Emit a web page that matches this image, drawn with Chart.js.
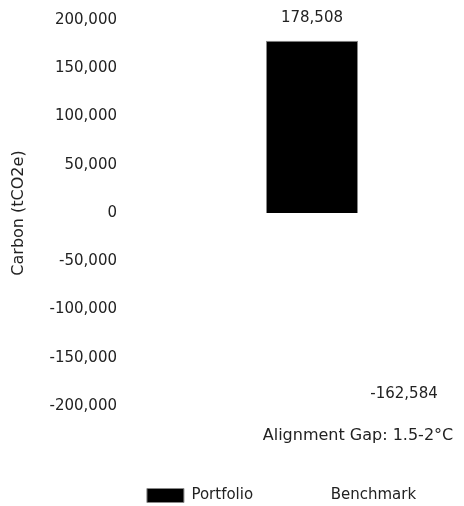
<!DOCTYPE html>
<html lang="en">
<head>
    <meta charset="UTF-8">
    <title>Alignment Gap</title>
    <style>
        * { margin: 0; padding: 0; box-sizing: border-box; }
        body { background: #fff; overflow: hidden; width: 464px; height: 506px; }
        .wrap { position: relative; width: 600px; height: 513px; }
    </style>
    <script src="https://cdn.jsdelivr.net/npm/chart.js"></script>
</head>
<body>
    <div class="wrap">
        <canvas id="gapChart"></canvas>
    </div>
    <script>
        const categories = ['Alignment Gap: 1.5-2°C'];
        const portfolio = [178508];
        const benchmark = [-162584];
        const yTicks = [-200000, -150000, -100000, -50000, 0, 50000, 100000, 150000, 200000];

        const fontFamily = '"DejaVu Sans", sans-serif';
        const textColor = '#222';
        const padLeft = -28;

        // draws the value above (or below, for negatives) each bar
        const valueLabels = {
            id: 'valueLabels',
            afterDatasetsDraw(chart) {
                const ctx = chart.ctx;
                ctx.save();
                ctx.font = '15px ' + fontFamily;
                ctx.fillStyle = textColor;
                ctx.textAlign = 'center';
                ctx.textBaseline = 'middle';
                chart.data.datasets.forEach((ds, i) => {
                    chart.getDatasetMeta(i).data.forEach((bar, j) => {
                        const v = ds.data[j];
                        const y = v >= 0 ? bar.y - 23 : bar.y + 24;
                        ctx.fillText(v.toLocaleString('en-US'), bar.x, y);
                    });
                });
                ctx.restore();
            }
        };

        new Chart(document.getElementById('gapChart'), {
            type: 'bar',
            data: {
                labels: categories,
                datasets: [
                    { label: 'Portfolio', data: portfolio, backgroundColor: '#000', borderColor: '#888', borderWidth: 1 },
                    { label: 'Benchmark', data: benchmark, backgroundColor: '#fff', borderColor: '#fff', borderWidth: 0 }
                ]
            },
            options: {
                responsive: true,
                maintainAspectRatio: false,
                animation: false,
                layout: { padding: { top: 20, right: 9, bottom: 0, left: padLeft } },
                datasets: { bar: { categoryPercentage: 0.395, barPercentage: 1 } },
                plugins: {
                    legend: {
                        position: 'bottom',
                        labels: { color: textColor, font: { family: fontFamily, size: 15 }, boxWidth: 37, boxHeight: 14, padding: 33 }
                    },
                    tooltip: { enabled: false }
                },
                scales: {
                    x: {
                        grid: { display: false },
                        border: { display: false },
                        ticks: { color: textColor, font: { family: fontFamily, size: 16 }, padding: 12, maxRotation: 0 },
                        afterFit: a => { a.height = 49; }
                    },
                    y: {
                        min: yTicks[0],
                        max: yTicks[yTicks.length - 1],
                        afterBuildTicks: axis => { axis.ticks = yTicks.map(v => ({ value: v })); },
                        afterFit: a => { a.width = 125 - padLeft; },
                        grid: { display: false },
                        border: { display: false },
                        title: { display: true, text: 'Carbon (tCO2e)', color: textColor,
                            font: { family: fontFamily, size: 16 }, padding: { top: 18 - 9 - padLeft, bottom: 0 } },
                        ticks: { color: textColor, font: { family: fontFamily, size: 15 }, padding: 0,
                            callback: v => v.toLocaleString('en-US') }
                    }
                }
            },
            plugins: [valueLabels]
        });
    </script>
</body>
</html>
